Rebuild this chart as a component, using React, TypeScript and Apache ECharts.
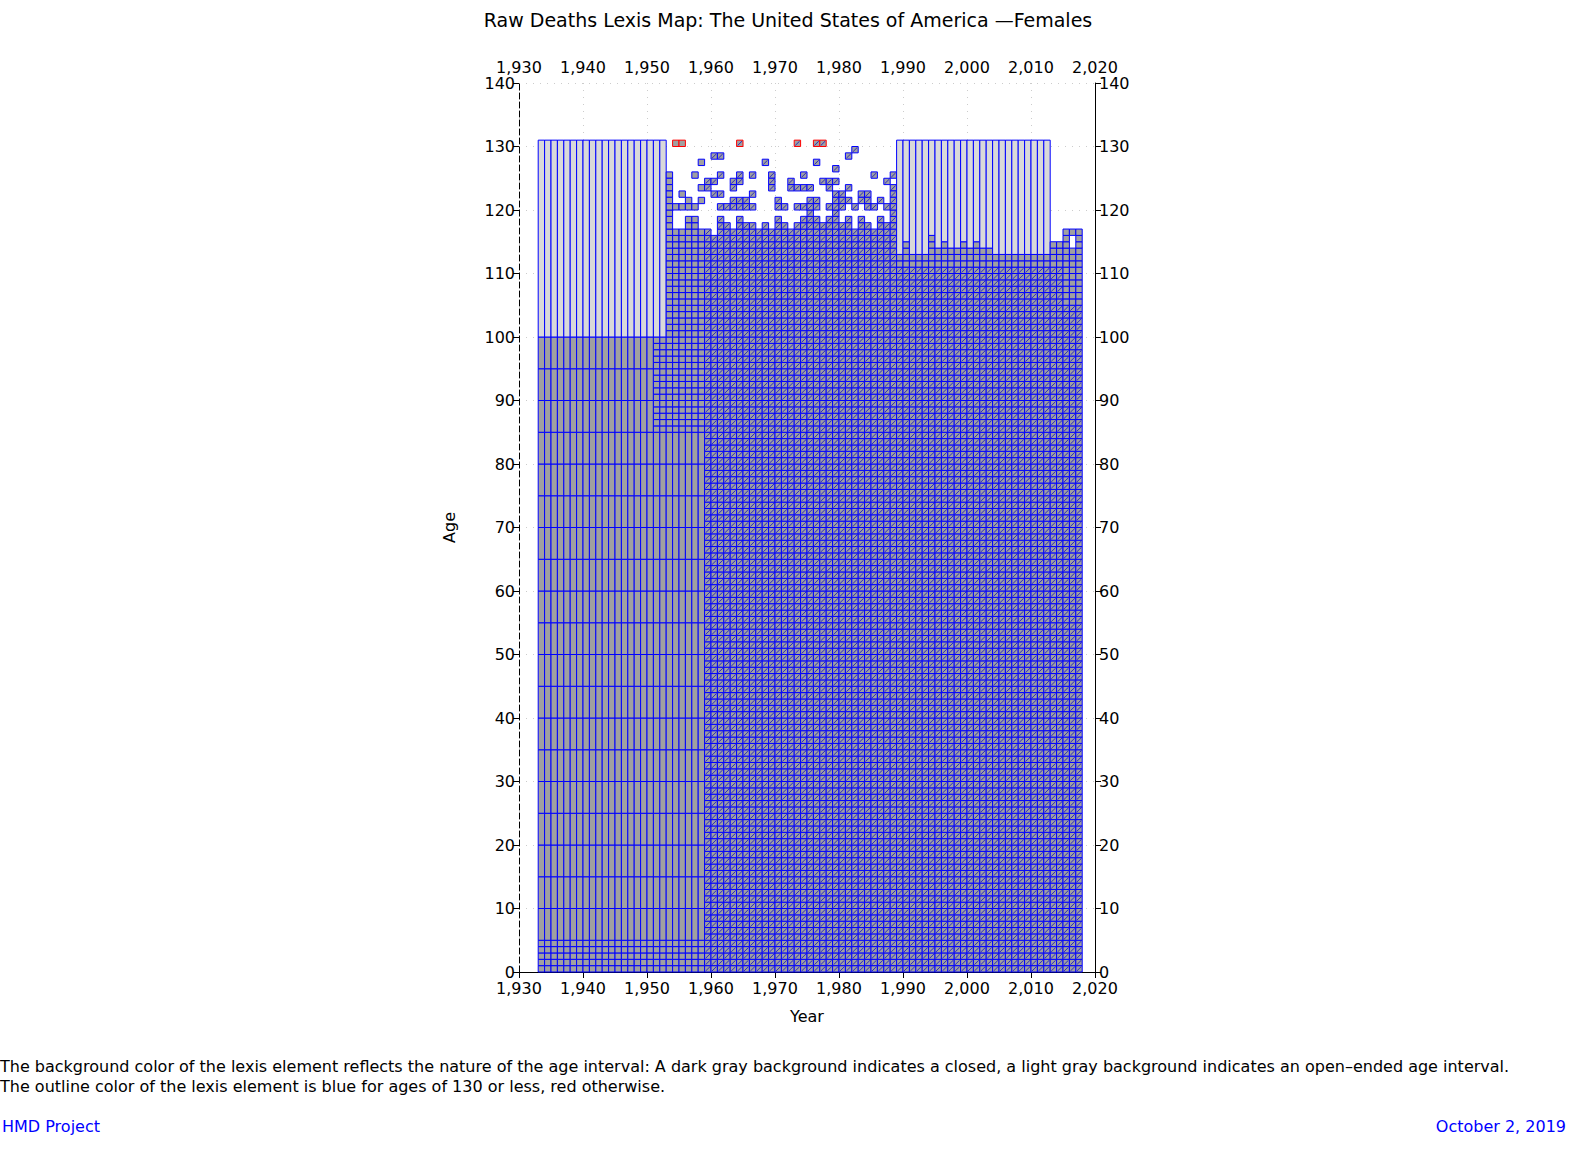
import React, { useEffect, useRef } from 'react';
import * as echarts from 'echarts';

// age group breaks used in the early years (closed intervals)
const earlyBreaks = [0, 1, 2, 3, 4, 5, 10, 15, 20, 25, 30, 35, 40, 45, 50, 55, 60, 65, 70, 75, 80, 85];
const earlyTop = [85, 90, 95, 100];
// open interval starts for 1989..2012
const openYears = [1989, 1990, 1991, 1992, 1993, 1994, 1995, 1996, 1997, 1998, 1999, 2000, 2001, 2002, 2003, 2004, 2005, 2006, 2007, 2008, 2009, 2010, 2011, 2012];
const openStart = [113, 115, 113, 113, 113, 116, 114, 115, 114, 114, 115, 114, 115, 114, 114, 113, 113, 113, 113, 113, 113, 113, 113, 113];
// highest contiguous closed age per year, 1953..1988
const baseYears = [1953, 1954, 1955, 1956, 1957, 1958, 1959, 1960, 1961, 1962, 1963, 1964, 1965, 1966, 1967, 1968, 1969, 1970, 1971, 1972, 1973, 1974, 1975, 1976, 1977, 1978, 1979, 1980, 1981, 1982, 1983, 1984, 1985, 1986, 1987, 1988];
const baseTop = [119, 116, 116, 118, 118, 116, 116, 115, 118, 117, 116, 118, 117, 117, 116, 117, 116, 118, 117, 116, 117, 118, 119, 118, 117, 118, 119, 117, 118, 116, 118, 117, 116, 118, 117, 119];
// scattered single cells above the base
const extraCells: [number, number][] = [
  [1982, 129],
  [1960, 128], [1961, 128], [1981, 128],
  [1958, 127], [1968, 127], [1976, 127],
  [1979, 126],
  [1953, 125], [1957, 125], [1961, 125], [1964, 125], [1966, 125], [1969, 125], [1974, 125], [1985, 125], [1988, 125],
  [1953, 124], [1959, 124], [1960, 124], [1963, 124], [1964, 124], [1969, 124], [1972, 124], [1977, 124], [1978, 124], [1979, 124], [1987, 124],
  [1953, 123], [1958, 123], [1959, 123], [1963, 123], [1969, 123], [1972, 123], [1973, 123], [1974, 123], [1975, 123], [1978, 123], [1981, 123], [1988, 123],
  [1953, 122], [1955, 122], [1960, 122], [1961, 122], [1966, 122], [1979, 122], [1980, 122], [1983, 122], [1984, 122], [1988, 122],
  [1953, 121], [1956, 121], [1958, 121], [1963, 121], [1964, 121], [1965, 121], [1970, 121], [1975, 121], [1976, 121], [1979, 121], [1980, 121], [1981, 121], [1983, 121], [1984, 121], [1986, 121], [1988, 121],
  [1953, 120], [1954, 120], [1955, 120], [1956, 120], [1957, 120], [1961, 120], [1962, 120], [1963, 120], [1964, 120], [1965, 120], [1966, 120], [1970, 120], [1971, 120], [1973, 120], [1974, 120], [1975, 120], [1976, 120], [1978, 120], [1979, 120], [1980, 120], [1982, 120], [1984, 120], [1985, 120], [1987, 120], [1988, 120],
  [1954, 130], [1955, 130], [1964, 130], [1973, 130], [1976, 130], [1977, 130],
];
// last years: [year, triangles up to, closed top, missing ages]
const lateYears: [number, number, number, number[]][] = [
  [2013, 111, 115, []],
  [2014, 111, 115, []],
  [2015, 105, 117, []],
  [2016, 105, 117, [114, 115]],
  [2017, 105, 117, []],
];

const xTicks = [1930, 1940, 1950, 1960, 1970, 1980, 1990, 2000, 2010, 2020];

function buildCells() {
  // [x0, x1, a0, a1, kind] kind 0 closed rect, 1 open, 2 triangles
  const c: number[][] = [];
  for (let y = 1933; y <= 1958; y++) {
    for (let i = 0; i < earlyBreaks.length - 1; i++) c.push([y, y + 1, earlyBreaks[i], earlyBreaks[i + 1], 0]);
    if (y <= 1950) {
      for (let i = 0; i < earlyTop.length - 1; i++) c.push([y, y + 1, earlyTop[i], earlyTop[i + 1], 0]);
    } else if (y <= 1952) {
      for (let a = 85; a < 100; a++) c.push([y, y + 1, a, a + 1, 0]);
    }
    if (y <= 1952) c.push([y, y + 1, 100, 131, 1]);
  }
  baseYears.forEach((y, i) => {
    const from = y < 1959 ? 85 : 0;
    for (let a = from; a <= baseTop[i]; a++) c.push([y, y + 1, a, a + 1, y < 1959 ? 0 : 2]);
  });
  extraCells.forEach(([y, a]) => c.push([y, y + 1, a, a + 1, y < 1959 ? 0 : 2]));
  openYears.forEach((y, i) => {
    for (let a = 0; a < openStart[i]; a++) c.push([y, y + 1, a, a + 1, a <= 110 ? 2 : 0]);
    c.push([y, y + 1, openStart[i], 131, 1]);
  });
  lateYears.forEach(([y, tri, top, miss]) => {
    for (let a = 0; a < top; a++) {
      if (miss.includes(a)) continue;
      c.push([y, y + 1, a, a + 1, a < tri ? 2 : 0]);
    }
  });
  return c;
}

const font = 'DejaVu Sans';

export default function App() {
  const ref = useRef<HTMLDivElement | null>(null);

  useEffect(() => {
    if (!ref.current) return;
    const chart = echarts.init(ref.current, null, { renderer: 'svg' });
    const cells = buildCells();
    const axisLabel = { color: '#000', fontSize: 16, fontFamily: font };
    const xBase = {
      type: 'value', min: 1930, max: 2020, interval: 10,
      axisLine: { show: true, lineStyle: { color: '#000' } },
      axisTick: { show: true, length: 6, lineStyle: { color: '#000' } },
      axisLabel: { ...axisLabel, margin: 8 },
      splitLine: { show: false },
    };
    const yBase = {
      type: 'value', min: 0, max: 140, interval: 10,
      axisLine: { show: true, lineStyle: { color: '#000' } },
      axisTick: { show: true, length: 6, lineStyle: { color: '#000' } },
      axisLabel: { ...axisLabel, margin: 4 },
      splitLine: { show: false },
    };
    chart.setOption({
      animation: false,
      backgroundColor: '#fff',
      title: {
        text: 'Raw Deaths Lexis Map: The United States of America \u2014Females',
        left: 783, top: 5, textAlign: 'center',
        textStyle: { fontSize: 19, fontWeight: 'normal', color: '#000', fontFamily: font },
      },
      grid: { left: 519, top: 83, width: 576, height: 889 },
      xAxis: [
        { ...xBase, position: 'bottom', name: 'Year', nameLocation: 'middle', nameGap: 36, nameTextStyle: { ...axisLabel } },
        { ...xBase, position: 'top', splitLine: { show: true, lineStyle: { color: '#ccc', type: [1, 6] } } },
      ],
      yAxis: [
        { ...yBase, position: 'left', axisLine: { show: true, lineStyle: { color: '#000', type: [6, 3] } },
          name: 'Age', nameLocation: 'middle', nameGap: 62, nameRotate: 90, nameTextStyle: { ...axisLabel } },
        { ...yBase, position: 'right', splitLine: { show: true, lineStyle: { color: '#ccc', type: [1, 6] } } },
      ],
      series: [{
        type: 'custom',
        xAxisIndex: 0, yAxisIndex: 0,
        progressive: 0,
        data: cells,
        renderItem: (params: any, api: any) => {
          const x0 = api.value(0), x1 = api.value(1), a0 = api.value(2), a1 = api.value(3), k = api.value(4);
          const p0 = api.coord([x0, a1]);
          const p1 = api.coord([x1, a0]);
          const stroke = a0 >= 130 ? '#ff0000' : '#0000ff';
          const children: any[] = [{
            type: 'rect',
            shape: { x: p0[0], y: p0[1], width: p1[0] - p0[0], height: p1[1] - p0[1] },
            style: { fill: k === 1 ? '#d9d9d9' : '#a0a0a0', stroke, lineWidth: 1 },
          }];
          if (k === 2) {
            children.push({
              type: 'line',
              shape: { x1: p0[0] + 1, y1: p1[1] - 1, x2: p1[0] - 1, y2: p0[1] + 1 },
              style: { stroke: '#2a2ac0', lineWidth: 1 },
            });
          }
          return { type: 'group', children };
        },
      }],
      graphic: [
        { type: 'text', left: 0, top: 1058, style: { text: 'The background color of the lexis element reflects the nature of the age interval: A dark gray background indicates a closed, a light gray background indicates an open\u2013ended age interval.', fontSize: 16, fontFamily: font, fill: '#000' } },
        { type: 'text', left: 0, top: 1078, style: { text: 'The outline color of the lexis element is blue for ages of 130 or less, red otherwise.', fontSize: 16, fontFamily: font, fill: '#000' } },
        { type: 'text', left: 2, top: 1118, style: { text: 'HMD Project', fontSize: 16, fontFamily: font, fill: '#0000ff' } },
        { type: 'text', right: 18, top: 1118, style: { text: 'October 2, 2019', fontSize: 16, fontFamily: font, fill: '#0000ff' } },
      ],
    });
    return () => chart.dispose();
  }, []);

  return <div ref={ref} style={{ position: 'fixed', left: 0, top: 0, width: 1584, height: 1152 }} />;
}
